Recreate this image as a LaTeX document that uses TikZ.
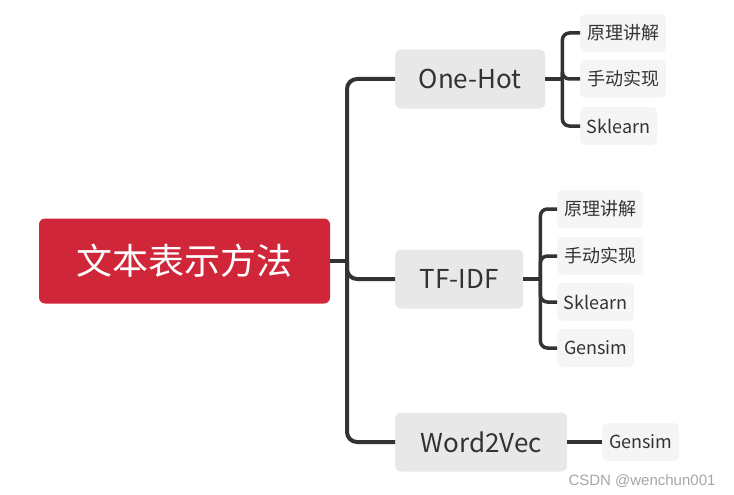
\documentclass[tikz,border=0pt]{standalone}
\usepackage{fontspec}
\setmainfont{Noto Sans CJK SC}
\newfontfamily\markfont{Liberation Sans}
\definecolor{rootred}{RGB}{208,38,58}
\definecolor{inkgray}{RGB}{51,51,51}
\definecolor{topicgray}{RGB}{232,232,232}
\definecolor{leafgray}{RGB}{245,245,245}
\tikzset{
  rootbox/.style={fill=rootred, text=white, rounded corners=6pt, minimum width=291pt, minimum height=85pt, font=\fontsize{36}{42}\selectfont},
  topicbox/.style={fill=topicgray, text=inkgray, rounded corners=6pt, minimum width=#1, minimum height=59pt, anchor=west, font=\fontsize{26}{30}\selectfont},
  leafbox/.style={fill=leafgray, text=inkgray, rounded corners=5pt, minimum width=#1, minimum height=38pt, anchor=west, font=\fontsize{18}{21}\selectfont},
  trunk/.style={draw=inkgray, line width=4pt, rounded corners=10pt},
  twig/.style={draw=inkgray, line width=3.5pt, rounded corners=7pt}
}
\begin{document}
\begin{tikzpicture}[x=1pt, y=-1pt]
\useasboundingbox (0,0) rectangle (734,495);
% central topic
\node[rootbox] (root) at (184.5,261) {文本表示方法};
\coordinate (spine) at (347,261);
% main branches
\node[topicbox=150pt] (onehot) at (395,79) {One-Hot};
\node[topicbox=128pt] (tfidf) at (395,279) {TF-IDF};
\node[topicbox=172pt] (wordvec) at (395,442) {Word2Vec};
% leaves of One-Hot
\node[leafbox=86pt] (ohtheory) at (580,33) {原理讲解};
\node[leafbox=86pt] (ohmanual) at (580,79) {手动实现};
\node[leafbox=77pt] (ohsklearn) at (580,126) {Sklearn};
% leaves of TF-IDF
\node[leafbox=86pt] (tftheory) at (557,209) {原理讲解};
\node[leafbox=86pt] (tfmanual) at (557,256) {手动实现};
\node[leafbox=77pt] (tfsklearn) at (557,302) {Sklearn};
\node[leafbox=77pt] (tfgensim) at (557,348) {Gensim};
% leaf of Word2Vec
\node[leafbox=77pt] (wvgensim) at (602,442) {Gensim};
% trunk
\draw[trunk] (root.east) -- (spine);
\draw[trunk] (onehot.west) -| (spine) |- (wordvec.west);
\draw[trunk] (tfidf.west) -| (spine);
% twigs
\draw[twig] (onehot.east) -- ++(17,0) coordinate (ohfork);
\foreach \leaf in {ohtheory, ohmanual, ohsklearn}
  \draw[twig] (ohfork) |- (\leaf.west);
\draw[twig] (tfidf.east) -- ++(17,0) coordinate (tffork);
\foreach \leaf in {tftheory, tfmanual, tfsklearn, tfgensim}
  \draw[twig] (tffork) |- (\leaf.west);
\draw[trunk] (wordvec.east) -- (wvgensim.west);
% watermark
\node[text=black!35, font=\markfont\fontsize{15}{17}\selectfont] (mark) at (642,481) {CSDN @wenchun001};
\end{tikzpicture}
\end{document}
